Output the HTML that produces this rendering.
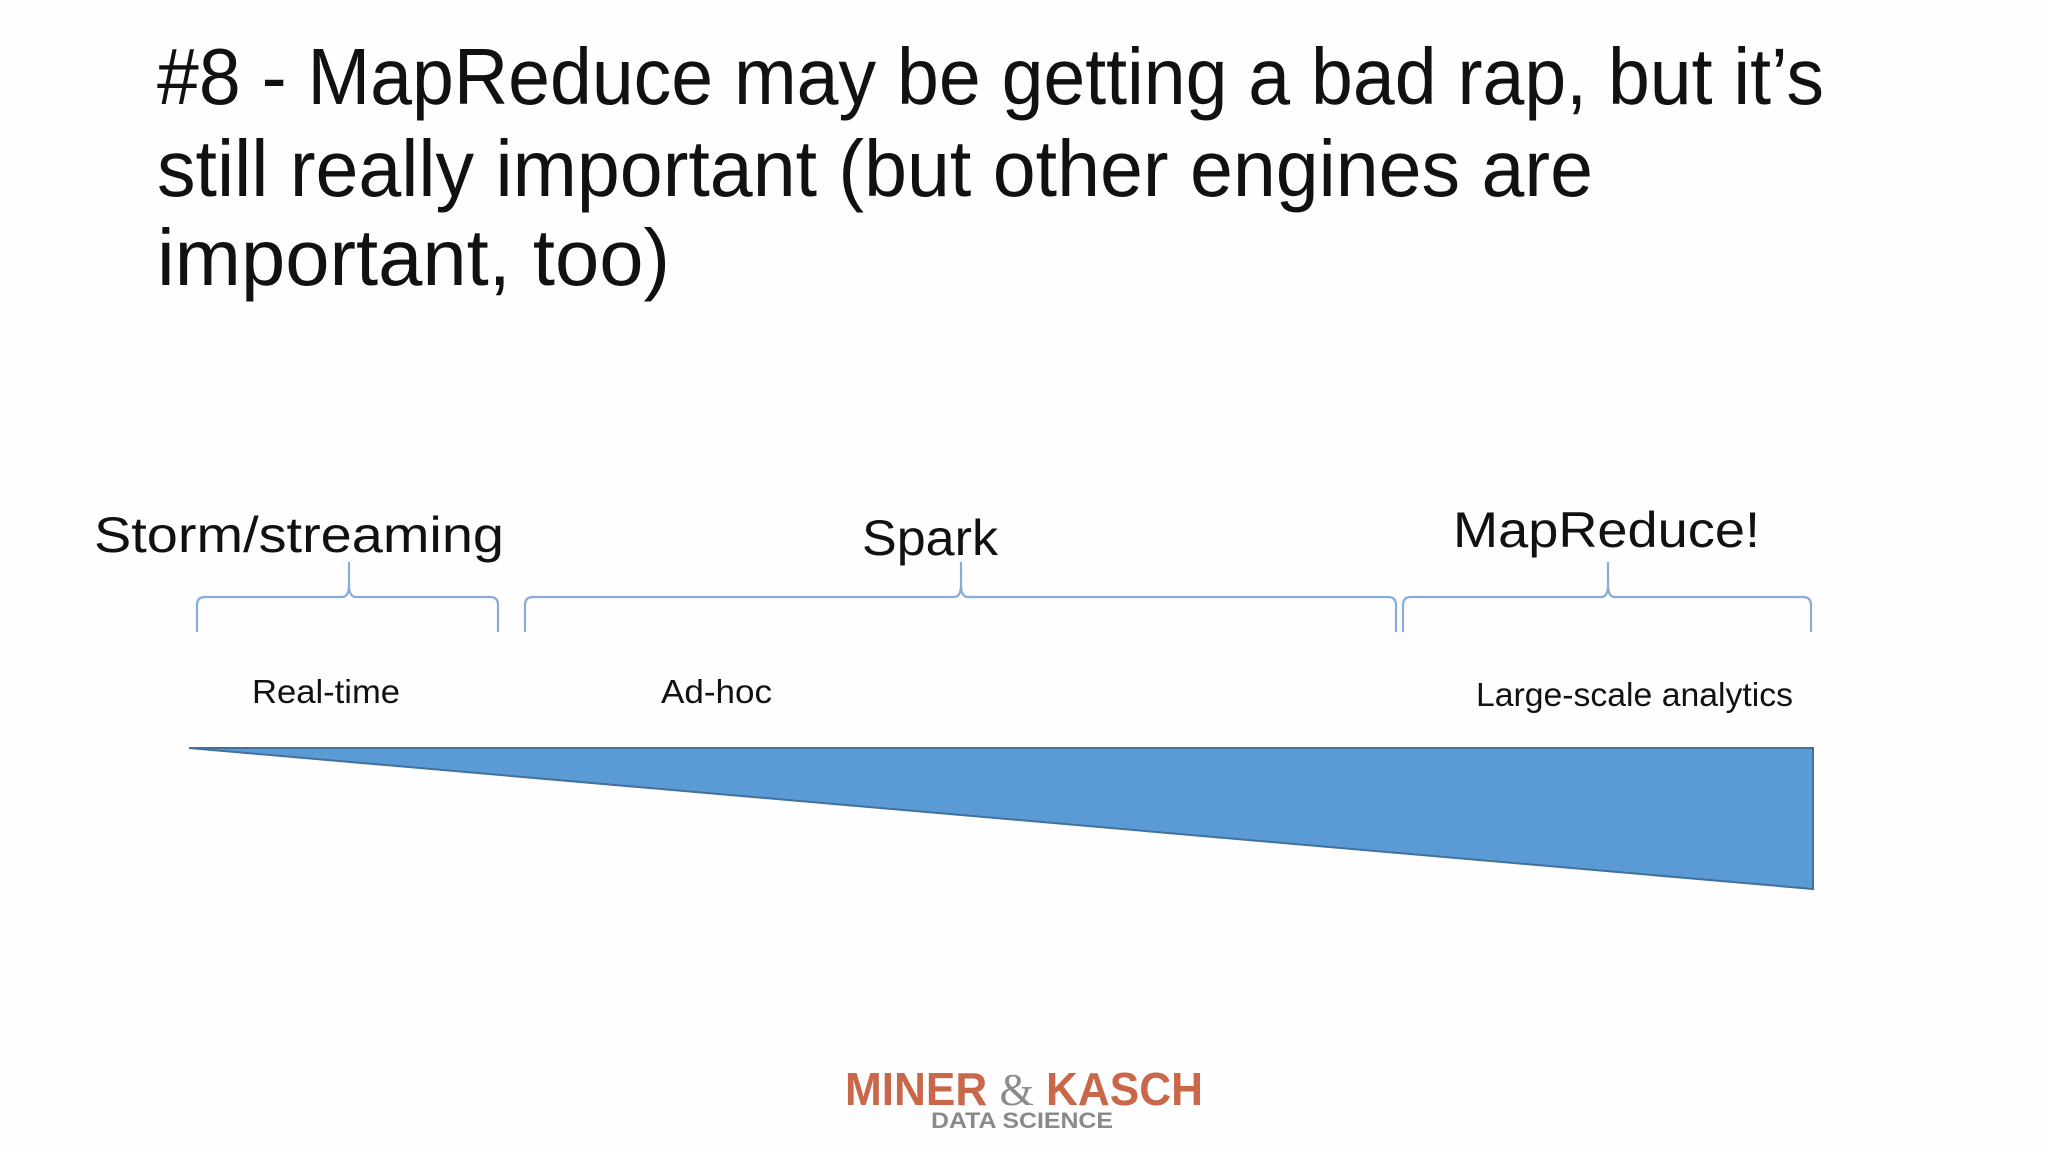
<!DOCTYPE html>
<html><head><meta charset="utf-8"><style>
html,body{margin:0;padding:0;background:#fefefe;}
svg{display:block;font-family:"Liberation Sans",sans-serif;}
</style></head><body>
<svg width="2048" height="1152" viewBox="0 0 2048 1152">
<rect width="2048" height="1152" fill="#fefefe"/>
<g fill="#111" font-size="80">
<text x="157" y="104" textLength="1667" lengthAdjust="spacingAndGlyphs">#8 - MapReduce may be getting a bad rap, but it’s</text>
<text x="157" y="196" textLength="1436" lengthAdjust="spacingAndGlyphs">still really important (but other engines are</text>
<text x="157" y="285" textLength="513" lengthAdjust="spacingAndGlyphs">important, too)</text>
</g>
<g fill="#111" font-size="50">
<text x="94" y="552" textLength="410" lengthAdjust="spacingAndGlyphs">Storm/streaming</text>
<text x="862" y="555" textLength="136" lengthAdjust="spacingAndGlyphs">Spark</text>
<text x="1453" y="547" textLength="307" lengthAdjust="spacingAndGlyphs">MapReduce!</text>
</g>
<g fill="none" stroke="#86acd9" stroke-width="2.2">
<path d="M197,632 V605 Q197,597 205,597 H342 Q349,597 349,585 V562 M349,585 Q349,597 356,597 H490 Q498,597 498,605 V632"/>
<path d="M525,632 V605 Q525,597 533,597 H954 Q961,597 961,585 V562 M961,585 Q961,597 968,597 H1388 Q1396,597 1396,605 V632"/>
<path d="M1403,632 V605 Q1403,597 1411,597 H1601 Q1608,597 1608,585 V562 M1608,585 Q1608,597 1615,597 H1803 Q1811,597 1811,605 V632"/>
</g>
<g fill="#111" font-size="33">
<text x="252" y="703" textLength="148" lengthAdjust="spacingAndGlyphs">Real-time</text>
<text x="661" y="703" textLength="111" lengthAdjust="spacingAndGlyphs">Ad-hoc</text>
<text x="1476" y="706" textLength="317" lengthAdjust="spacingAndGlyphs">Large-scale analytics</text>
</g>
<polygon points="189,748 1813,748 1813,889" fill="#5b9bd5" stroke="#41719c" stroke-width="2"/>
<g font-weight="bold">
<text x="845" y="1105" font-size="46" fill="#c8674a" textLength="358" lengthAdjust="spacingAndGlyphs">MINER <tspan fill="#8c8c8c" font-family="Liberation Serif,serif" font-weight="normal">&amp;</tspan> KASCH</text>
<text x="931" y="1128" font-size="22" fill="#8a8a8a" textLength="182" lengthAdjust="spacingAndGlyphs">DATA SCIENCE</text>
</g>
</svg>
</body></html>
